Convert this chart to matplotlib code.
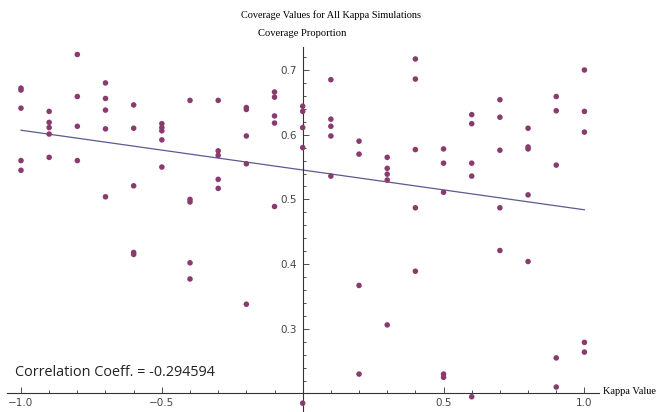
import matplotlib
matplotlib.use("Agg")
import matplotlib.pyplot as plt
import numpy as np

kappa = [-1.0, -0.9, -0.8, -0.7, -0.6, -0.5, -0.4, -0.3, -0.2, -0.1, 0.0,
         0.1, 0.2, 0.3, 0.4, 0.5, 0.6, 0.7, 0.8, 0.9, 1.0]

coverage = [
    [0.672, 0.669, 0.641, 0.560, 0.545],
    [0.636, 0.619, 0.611, 0.601, 0.565],
    [0.724, 0.659, 0.613, 0.560],
    [0.680, 0.656, 0.638, 0.609, 0.504],
    [0.646, 0.610, 0.521, 0.418, 0.415],
    [0.617, 0.611, 0.606, 0.592, 0.550],
    [0.653, 0.500, 0.496, 0.402, 0.377],
    [0.653, 0.575, 0.568, 0.531, 0.517],
    [0.642, 0.639, 0.598, 0.555, 0.338],
    [0.666, 0.658, 0.629, 0.618, 0.489],
    [0.644, 0.636, 0.611, 0.580, 0.185],
    [0.685, 0.624, 0.613, 0.598, 0.536],
    [0.590, 0.570, 0.367, 0.230],
    [0.565, 0.548, 0.539, 0.530, 0.306],
    [0.717, 0.686, 0.577, 0.487, 0.389],
    [0.578, 0.556, 0.511, 0.230, 0.225],
    [0.631, 0.617, 0.556, 0.536, 0.195],
    [0.654, 0.627, 0.576, 0.487, 0.421],
    [0.610, 0.581, 0.578, 0.507, 0.404],
    [0.659, 0.637, 0.553, 0.255, 0.210],
    [0.700, 0.636, 0.604, 0.279, 0.264],
]

x_ticks = [-1.0, -0.5, 0.5, 1.0]
y_ticks = [0.3, 0.4, 0.5, 0.6, 0.7]

xs = np.concatenate([[k] * len(c) for k, c in zip(kappa, coverage)])
ys = np.concatenate(coverage)
slope, intercept = np.polyfit(xs, ys, 1)

fig = plt.figure(figsize=(6.62, 4.12), dpi=100)
ax = fig.add_axes([6.9 / 662, 0.0, 591.6 / 662, 1 - 46.7 / 412])
ax.set_xlim(-1.05, 1.05)
ax.set_ylim(0.1714, 0.736)

ax.scatter(xs, ys, s=16, color="#8a3b6e", edgecolors="none", zorder=3)
line_x = np.array([-1.0, 1.0])
ax.plot(line_x, slope * line_x + intercept, color="#5a5a92", lw=0.9, zorder=2)

# axes crossing like Mathematica
for s in ["top", "right"]:
    ax.spines[s].set_visible(False)
ax.spines["left"].set_position(("data", 0))
ax.spines["bottom"].set_position(("data", 0.2))
for s in ["left", "bottom"]:
    ax.spines[s].set_color("#333333")
    ax.spines[s].set_linewidth(0.8)

ax.set_xticks(x_ticks)
ax.set_xticklabels(["\u22121.0", "\u22120.5", "0.5", "1.0"])
ax.set_xticks(np.arange(-1.0, 1.05, 0.1), minor=True)
ax.set_yticks(y_ticks)
ax.set_yticks(np.arange(0.2, 0.74, 0.02), minor=True)
ax.tick_params(which="both", direction="in", color="#333333", labelsize=7.5,
               labelcolor="#444444", width=0.6)
ax.tick_params(which="major", length=4)
ax.tick_params(which="minor", length=2)
ax.tick_params(axis="x", pad=3)
ax.tick_params(axis="y", pad=4)

fig.text(331 / 662, 1 - 15 / 412, "Coverage Values for All Kappa Simulations",
         family="Liberation Serif", fontsize=7.4, ha="center", va="center")
fig.text(302 / 662, 1 - 34 / 412, "Coverage Proportion",
         family="Liberation Serif", fontsize=7.6, ha="center", va="center")
fig.text(603 / 662, 1 - 392 / 412, "Kappa Value",
         family="Liberation Serif", fontsize=7.5, ha="left", va="center")
fig.text(15 / 662, 1 - 373 / 412, "Correlation Coeff. = -0.294594",
         family="Open Sans", fontsize=10.4, ha="left", va="center", color="#222222")

fig.savefig("out.png", dpi=100)
